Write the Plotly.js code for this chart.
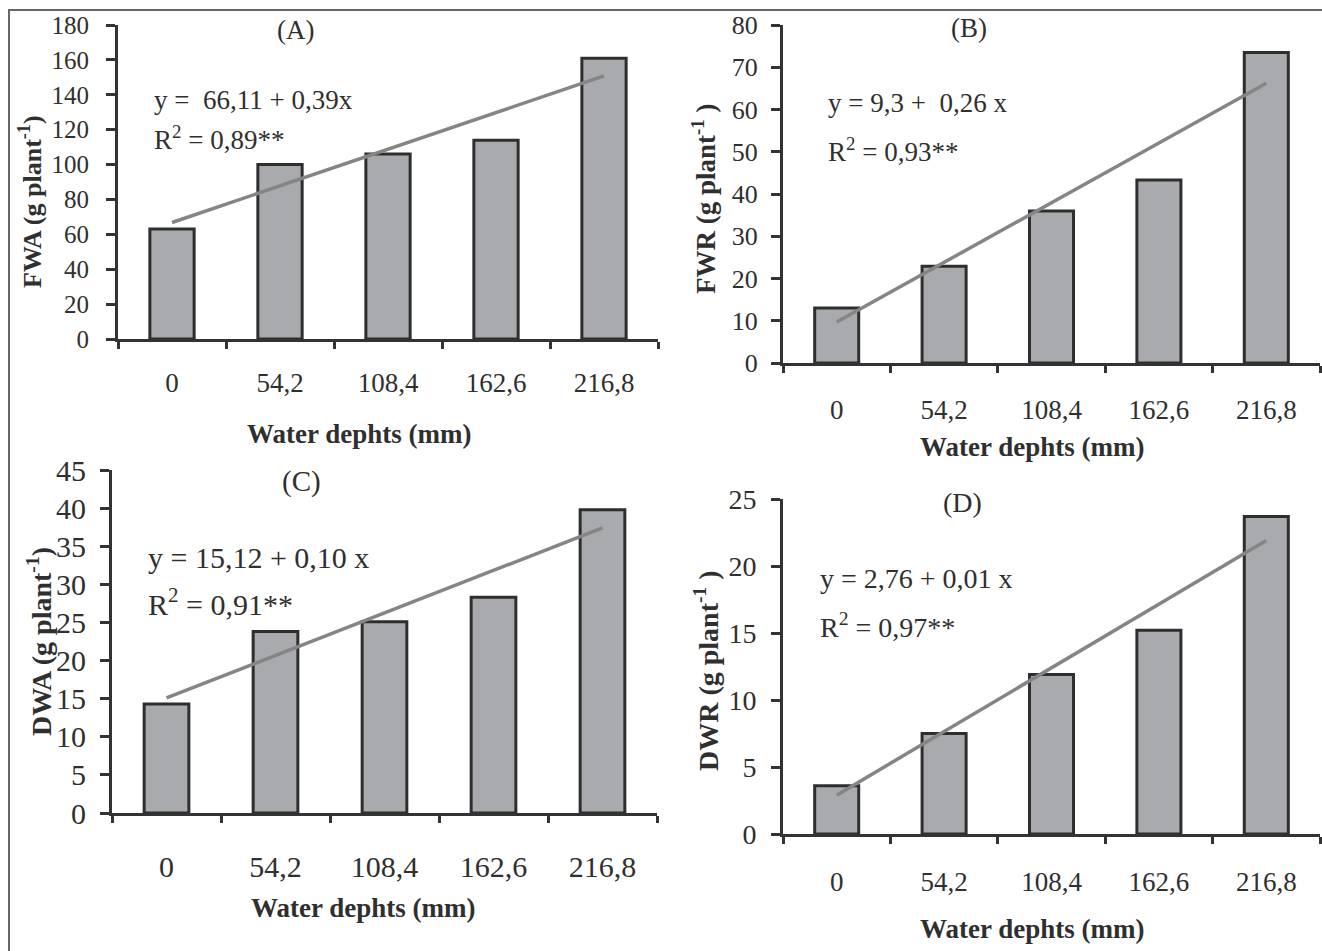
<!DOCTYPE html>
<html>
<head>
<meta charset="utf-8">
<script src="https://cdn.plot.ly/plotly-3.0.1.min.js"></script>
<style>html,body{margin:0;padding:0;background:#fff;}#chart{width:1322px;height:951px;}</style>
</head>
<body>
<div id="chart"></div>
<script>
// ---- data ----
const depths = ["0", "54,2", "108,4", "162,6", "216,8"];
const fwa = [63, 100, 106, 114, 161];
const fwr = [13, 22.9, 36, 43.3, 73.5];
const dwa = [14.3, 23.8, 25.1, 28.3, 39.8];
const dwr = [3.6, 7.5, 11.9, 15.2, 23.7];
const fwaTrend = [66.8, 150.8];
const fwrTrend = [9.7, 66.2];
const dwaTrend = [15.1, 37.4];
const dwrTrend = [2.9, 21.9];
const panelLabels = ["(A)", "(B)", "(C)", "(D)"];
const equations = ["y =  66,11 + 0,39x", "y = 9,3 +  0,26 x", "y = 15,12 + 0,10 x", "y = 2,76 + 0,01 x"];
const r2Texts = ["R<sup>2</sup> = 0,89**", "R<sup>2</sup> = 0,93**", "R<sup>2</sup> = 0,91**", "R<sup>2</sup> = 0,97**"];
const yTitles = ["FWA (g plant<sup>-1</sup>)", "FWR (g plant<sup>-1</sup> )", "DWA (g plant<sup>-1</sup>)", "DWR (g plant<sup>-1</sup> )"];
const xTitle = "Water dephts (mm)";
const yMax = [180, 80, 45, 25];
const yStep = [20, 10, 5, 5];

// ---- layout geometry (pixels) ----
const W = 1322, H = 951;
const FONT = "Liberation Serif, Times New Roman, serif";
const TXT = "#2f2f2f";
const px = v => v / W;
const py = v => 1 - v / H;

const panels = [
  {x0:118, x1:658, y0:25, y1:339, yfs:25, xfs:27, ystand:12, xstand:18,
   lab:[295,30,27], eq:[152,100,138,27], yt:[30,202,26], xt:[359,434]},
  {x0:783, x1:1320, y0:25, y1:363, yfs:26, xfs:27, ystand:8, xstand:21,
   lab:[969,28,27], eq:[826,103,150,27], yt:[704,199,27], xt:[1032,447]},
  {x0:112, x1:657, y0:470, y1:813, yfs:30, xfs:30, ystand:8, xstand:25,
   lab:[301,482,29], eq:[146,557,602,30], yt:[39,642,28], xt:[363,908]},
  {x0:783, x1:1320, y0:499, y1:834, yfs:28, xfs:27, ystand:9, xstand:22,
   lab:[962,502,28], eq:[818,578,625,28], yt:[706,671,28], xt:[1032,929]}
];
const series = [fwa, fwr, dwa, dwr];
const trends = [fwaTrend, fwrTrend, dwaTrend, dwrTrend];

const data = [];
const layout = {
  width: W, height: H,
  margin: {l:0, r:0, t:0, b:0},
  paper_bgcolor: "#ffffff", plot_bgcolor: "rgba(0,0,0,0)",
  showlegend: false,
  font: {family: FONT, color: TXT},
  annotations: [],
  shapes: [
    {type:"line", xref:"paper", yref:"paper", x0:px(8), x1:1, y0:py(10), y1:py(10), line:{color:"#666666", width:2}},
    {type:"line", xref:"paper", yref:"paper", x0:px(9), x1:px(9), y0:py(10), y1:0, line:{color:"#666666", width:2}}
  ]
};

panels.forEach((p, i) => {
  const n = i + 1;
  const xa = n === 1 ? "x" : "x" + n;
  const ya = n === 1 ? "y" : "y" + n;
  const xk = n === 1 ? "xaxis" : "xaxis" + n;
  const yk = n === 1 ? "yaxis" : "yaxis" + n;

  data.push({
    type: "bar", x: depths, y: series[i], xaxis: xa, yaxis: ya,
    width: 0.41,
    marker: {color: "#a9aaae", line: {color: "#2e2e2e", width: 3}},
    hoverinfo: "x+y"
  });
  data.push({
    type: "scatter", mode: "lines", x: [depths[0], depths[depths.length - 1]], y: trends[i],
    xaxis: xa, yaxis: ya,
    line: {color: "#858585", width: 3.5},
    cliponaxis: false
  });

  layout[xk] = {
    domain: [px(p.x0), px(p.x1)], anchor: ya,
    type: "category", range: [-0.5, 4.5],
    showline: true, linecolor: "#333333", linewidth: 3,
    ticks: "outside", tickson: "boundaries", ticklen: 7, tickwidth: 3, tickcolor: "#333333",
    ticklabelstandoff: p.xstand,
    tickfont: {family: FONT, size: p.xfs, color: TXT},
    showgrid: false, zeroline: false, fixedrange: true
  };
  layout[yk] = {
    domain: [py(p.y1), py(p.y0)], anchor: xa,
    range: [0, yMax[i]], dtick: yStep[i], tick0: 0,
    showline: true, linecolor: "#333333", linewidth: 3,
    ticks: "outside", ticklen: 9, tickwidth: 3, tickcolor: "#333333",
    ticklabelstandoff: p.ystand,
    tickfont: {family: FONT, size: p.yfs, color: TXT},
    showgrid: false, zeroline: false, fixedrange: true
  };

  const A = layout.annotations;
  A.push({xref:"paper", yref:"paper", x:px(p.lab[0]), y:py(p.lab[1]), xanchor:"center", yanchor:"middle",
    text: panelLabels[i], showarrow:false, font:{family:FONT, size:p.lab[2], color:TXT}});
  A.push({xref:"paper", yref:"paper", x:px(p.eq[0]), y:py(p.eq[1]), xanchor:"left", yanchor:"middle",
    text: equations[i].replace(/  /g, " \u00a0"), showarrow:false, font:{family:FONT, size:p.eq[3], color:TXT}});
  A.push({xref:"paper", yref:"paper", x:px(p.eq[0]), y:py(p.eq[2]), xanchor:"left", yanchor:"middle",
    text: r2Texts[i], showarrow:false, font:{family:FONT, size:p.eq[3], color:TXT}});
  A.push({xref:"paper", yref:"paper", x:px(p.yt[0]), y:py(p.yt[1]), xanchor:"center", yanchor:"middle",
    text: "<b>" + yTitles[i] + "</b>", textangle:-90, showarrow:false, font:{family:FONT, size:p.yt[2], color:TXT}});
  A.push({xref:"paper", yref:"paper", x:px(p.xt[0]), y:py(p.xt[1]), xanchor:"center", yanchor:"middle",
    text: "<b>" + xTitle + "</b>", showarrow:false, font:{family:FONT, size:27, color:TXT}});
});

Plotly.newPlot("chart", data, layout, {displayModeBar: false, staticPlot: false});
</script>
</body>
</html>
